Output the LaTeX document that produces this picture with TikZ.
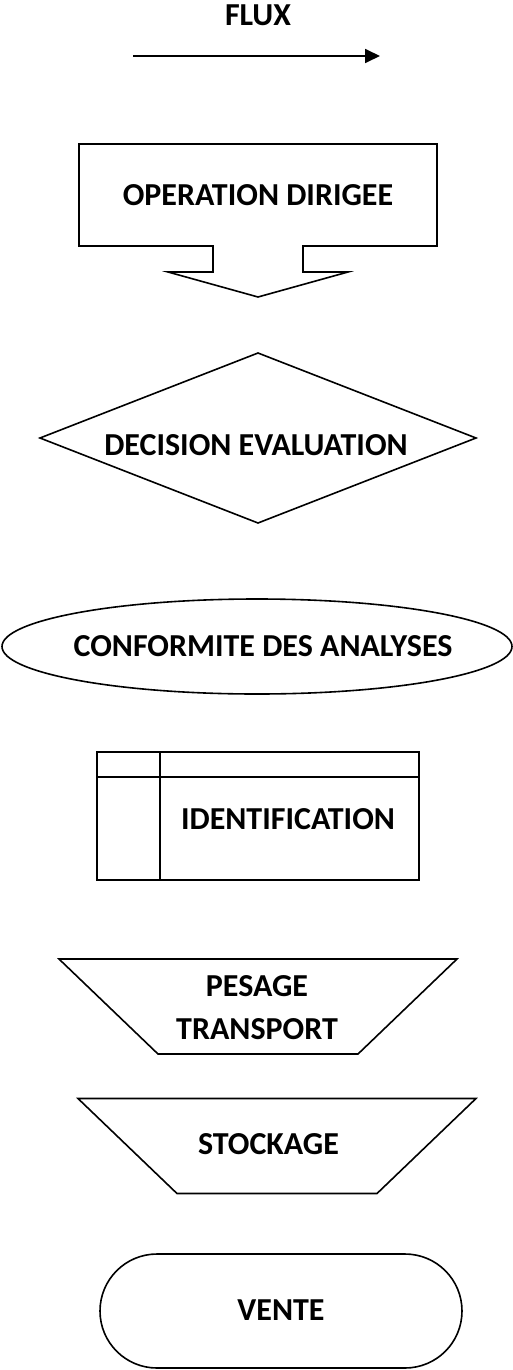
\documentclass[tikz,border=0pt]{standalone}
\usepackage{fontspec}
\setmainfont{Carlito}
\usetikzlibrary{arrows.meta,calc,shapes.geometric,shapes.misc}
\tikzset{
  lbl/.style={font=\fontsize{32}{43}\selectfont\bfseries, inner sep=0pt, outer sep=0pt, align=center},
  shapebox/.style={draw=black, line width=1.6pt, inner sep=0pt, outer sep=0pt},
  outline/.style={line width=1.6pt, line join=miter},
  flow/.style={-{Triangle[length=15pt,width=14pt]}, line width=1.8pt}
}
% funnel: top width 398, bottom width 200, height 95
\newcommand{\funnel}[1]{%
  \draw[outline] ($(#1)+(-199,-47.5)$) -- ++(398,0) -- ++(-99,95) -- ++(-200,0) -- cycle;}

\begin{document}
\begin{tikzpicture}[x=1pt,y=-1pt]
  \useasboundingbox (0,0) rectangle (513,1370);
  % flux
  \node[lbl] (flux) at (258,15) {FLUX};
  \coordinate (fluxa) at (133,56);
  \coordinate (fluxb) at (380,56);
  \draw[flow] (fluxa) -- (fluxb);
  % operation dirigee
  \node[lbl, minimum width=358pt, minimum height=102pt] (oper) at (258,195) {OPERATION DIRIGEE};
  \draw[outline] (oper.north west) -- (oper.north east) -- (oper.south east)
    -- ($(oper.south)+(45,0)$) -- ++(0,26) -- ++(45,0) -- ($(oper.south)+(0,51)$)
    -- ($(oper.south)+(-90,26)$) -- ++(45,0) -- ($(oper.south)+(-45,0)$)
    -- (oper.south west) -- cycle;
  % decision
  \node[shapebox, diamond, minimum width=436pt, minimum height=170pt] (decision) at (258,438) {};
  \node[lbl] (decisionlbl) at (256,445) {DECISION EVALUATION};
  % analyses
  \node[shapebox, ellipse, minimum width=510pt, minimum height=95pt] (analyses) at (257,646.5) {};
  \node[lbl] (analyseslbl) at (263,646) {CONFORMITE DES ANALYSES};
  % identification
  \node[shapebox, minimum width=322pt, minimum height=128pt] (ident) at (258,816) {};
  \draw[outline] ($(ident.north west)+(0,25)$) -- ($(ident.north east)+(0,25)$);
  \draw[outline] ($(ident.north west)+(63,0)$) -- ($(ident.south west)+(63,0)$);
  \node[lbl] (identlbl) at (288,819) {IDENTIFICATION};
  % pesage, stockage
  \coordinate (pesage) at (258,1006.5);
  \funnel{pesage}
  \node[lbl] (pesagelbl) at (257,1007.5) {PESAGE\\TRANSPORT};
  \coordinate (stock) at (277,1146);
  \funnel{stock}
  \node[lbl] (stocklbl) at (268.5,1144) {STOCKAGE};
  % vente
  \node[shapebox, rounded rectangle, minimum width=362pt, minimum height=114pt] (vente) at (281,1311) {};
  \node[lbl] (ventelbl) at (281,1310) {VENTE};
\end{tikzpicture}
\end{document}
